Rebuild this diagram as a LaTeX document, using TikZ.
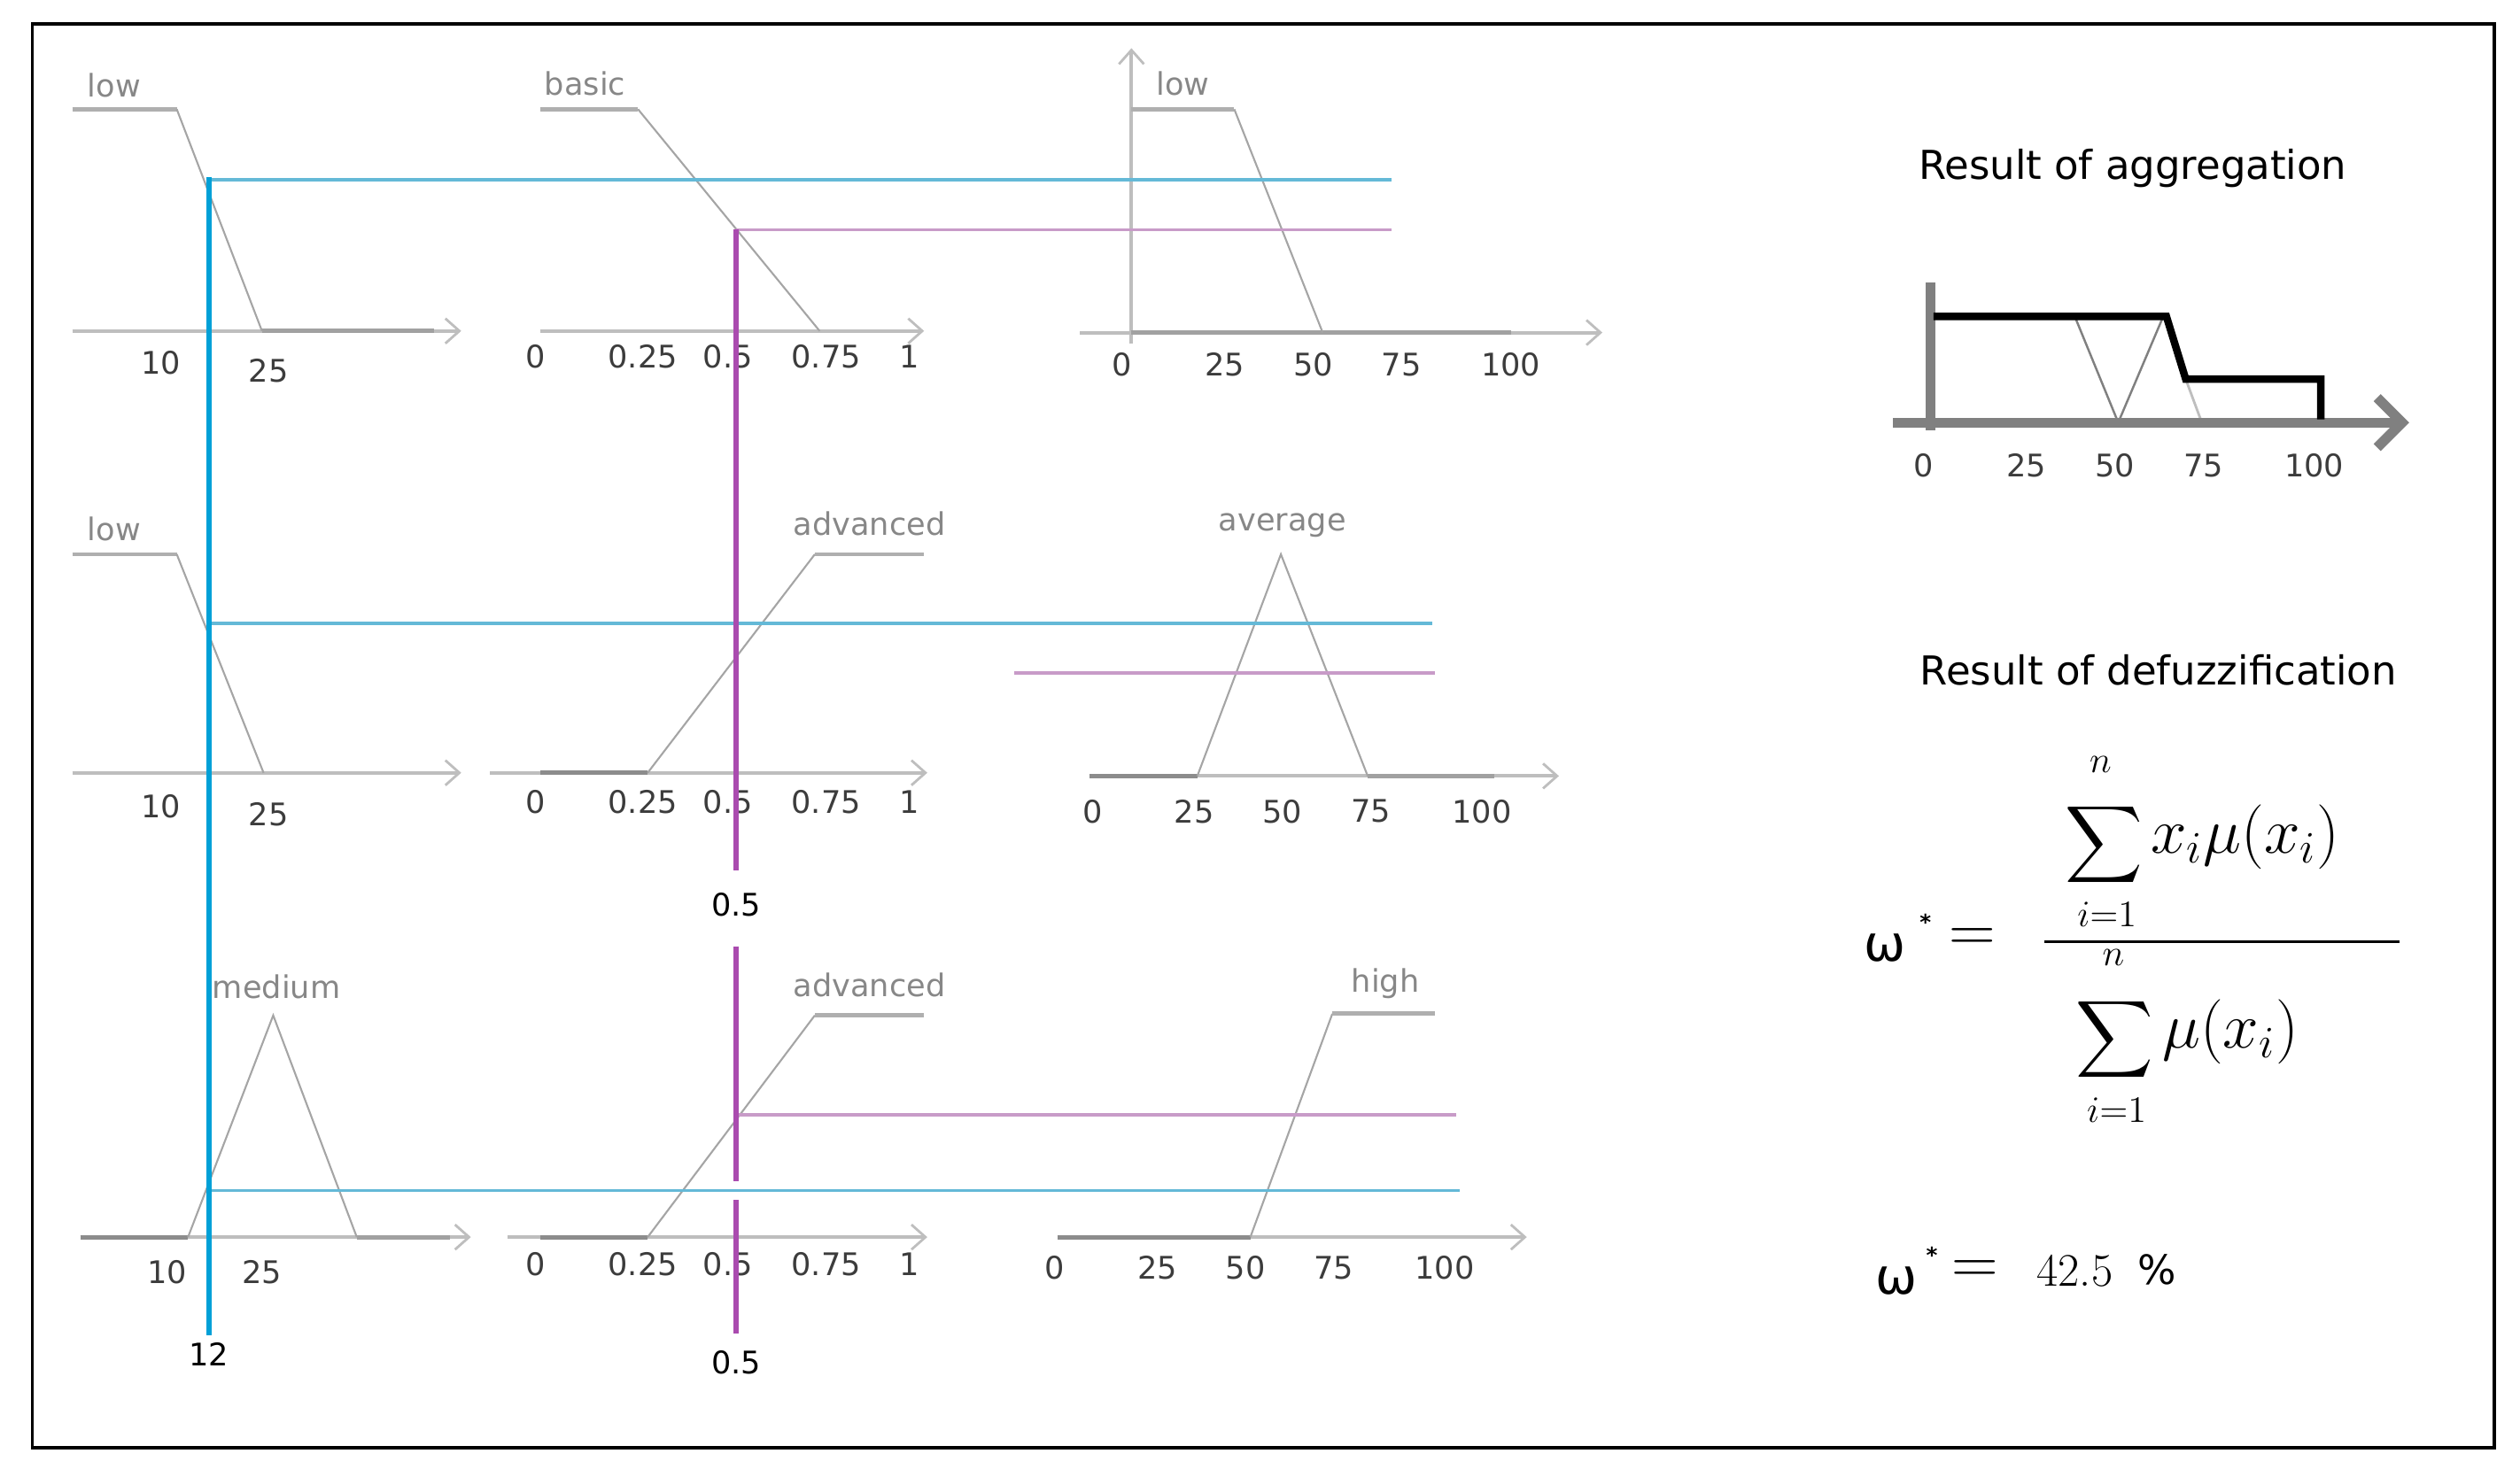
\documentclass[tikz,border=0pt]{standalone}
\usepackage{amsmath}
\usepackage{fontspec}
\usetikzlibrary{arrows.meta}
\newfontfamily\lblfont{DejaVu Sans}
\definecolor{lblgray}{RGB}{135,135,135}
\definecolor{numgray}{RGB}{60,60,60}
\definecolor{axisgray}{RGB}{190,190,190}
\definecolor{topgray}{RGB}{175,175,175}
\definecolor{slopegray}{RGB}{165,165,165}
\definecolor{zerogray}{RGB}{140,140,140}
\definecolor{blueV}{RGB}{0,160,215}
\definecolor{blueH}{RGB}{100,185,215}
\definecolor{magV}{RGB}{170,75,175}
\definecolor{magH}{RGB}{200,155,200}
\definecolor{agggray}{RGB}{128,128,128}
\tikzset{
 lbl/.style={font=\lblfont\fontsize{10}{12}\selectfont, text=lblgray, inner sep=0pt},
 num/.style={font=\lblfont\fontsize{10}{12}\selectfont, text=numgray, inner sep=0pt},
 title/.style={font=\lblfont\fontsize{12.8}{15}\selectfont, text=black, inner sep=0pt},
 mathbig/.style={font=\fontsize{18}{20}\selectfont, inner sep=0pt},
 mathbody/.style={font=\fontsize{20.5}{22}\selectfont, inner sep=0pt},
 mathlim/.style={font=\fontsize{12}{14}\selectfont, inner sep=0pt},
 axisline/.style={draw=axisgray, line width=1.1pt, -{Straight Barb[length=4.5pt,width=8pt,line width=0.8pt]}},
 mtop/.style={draw=topgray, line width=1.4pt},
 mslope/.style={draw=slopegray, line width=0.6pt},
 zeroseg/.style={draw=zerogray, line width=1.4pt},
 bluev/.style={draw=blueV, line width=1.8pt},
 blueh/.style={draw=blueH, line width=1.1pt},
 magv/.style={draw=magV, line width=1.6pt},
 magh/.style={draw=magH, line width=1.1pt},
 aggaxis/.style={draw=agggray, line width=3.2pt},
 aggres/.style={draw=black, line width=2.4pt, line join=miter},
}
\begin{document}
\begin{tikzpicture}[x=0.18144mm, y=-0.18144mm]
\useasboundingbox (0,0) rectangle (1568,914);
\draw[line width=1pt] (20,15) rectangle (1552,901);

% ---------------- Row 1 ----------------
\node[lbl] (r1a) at (71,53) {low};
\draw[axisline] (45,206) -- (287,206);
\draw[zeroseg, draw=axisgray!85!black] (163,206) -- (270,206);
\draw[mtop] (45,68) -- (110,68);
\draw[mslope] (110,68) -- (163,206);
\node[num] (r1a10) at (100,226) {10};
\node[num] (r1a25) at (167,231) {25};

\node[lbl] (r1b) at (364,52) {basic};
\draw[axisline] (336,206) -- (575,206);
\draw[mtop] (336,68) -- (397,68);
\draw[mslope] (397,68) -- (510,206);
\foreach \t/\x [count=\k] in {0/333,0.25/400,0.5/453,0.75/514,1/566}
  \node[num] (r1bt\k) at (\x,222) {\t};

\node[lbl] (r1c) at (736,52) {low};
\draw[draw=axisgray, line width=1.1pt, -{Straight Barb[length=4.5pt,width=8pt,line width=0.8pt]}] (704,214) -- (704,30);
\draw[axisline] (672,207) -- (997,207);
\draw[zeroseg, draw=axisgray!85!black] (704,207) -- (940,207);
\draw[mtop] (704,68) -- (768,68);
\draw[mslope] (768,68) -- (823,207);
\foreach \t/\x [count=\k] in {0/698,25/762,50/817,75/872,100/940}
  \node[num] (r1ct\k) at (\x,227) {\t};

% ---------------- Row 2 ----------------
\node[lbl] (r2a) at (71,329) {low};
\draw[axisline] (45,481) -- (287,481);
\draw[mtop] (45,345) -- (110,345);
\draw[mslope] (110,345) -- (164,481);
\node[num] (r2a10) at (100,502) {10};
\node[num] (r2a25) at (167,507) {25};

\node[lbl] (r2b) at (541,326) {advanced};
\draw[axisline] (305,481) -- (577,481);
\draw[zeroseg] (336,481) -- (403,481);
\draw[mslope] (403,481) -- (507,345);
\draw[mtop] (507,345) -- (575,345);
\foreach \t/\x [count=\k] in {0/333,0.25/400,0.5/453,0.75/514,1/566}
  \node[num] (r2bt\k) at (\x,499) {\t};

\node[lbl] (r2c) at (798,327) {average};
\draw[axisline] (678,483) -- (970,483);
\draw[zeroseg] (678,483) -- (745,483);
\draw[zeroseg, draw=axisgray!85!black] (851,483) -- (930,483);
\draw[mslope] (745,483) -- (797,345) -- (851,483);
\foreach \t/\x [count=\k] in {0/680,25/743,50/798,75/853,100/922}
  \node[num] (r2ct\k) at (\x,505) {\t};

% ---------------- Row 3 ----------------
\node[lbl] (r3a) at (172,614) {medium};
\draw[axisline] (50,770) -- (293,770);
\draw[zeroseg] (50,770) -- (117,770);
\draw[zeroseg, draw=axisgray!85!black] (222,770) -- (280,770);
\draw[mslope] (117,770) -- (170,632) -- (222,770);
\node[num] (r3a10) at (104,792) {10};
\node[num] (r3a25) at (163,792) {25};

\node[lbl] (r3b) at (541,613) {advanced};
\draw[axisline] (316,770) -- (577,770);
\draw[zeroseg] (336,770) -- (403,770);
\draw[mslope] (403,770) -- (507,632);
\draw[mtop] (507,632) -- (575,632);
\foreach \t/\x [count=\k] in {0/333,0.25/400,0.5/453,0.75/514,1/566}
  \node[num] (r3bt\k) at (\x,787) {\t};

\node[lbl] (r3c) at (862,612) {high};
\draw[axisline] (658,770) -- (950,770);
\draw[zeroseg] (658,770) -- (778,770);
\draw[mslope] (778,770) -- (829,631);
\draw[mtop] (829,631) -- (893,631);
\foreach \t/\x [count=\k] in {0/656,25/720,50/775,75/830,100/899}
  \node[num] (r3ct\k) at (\x,789) {\t};

% ---------------- cut lines ----------------
\draw[blueh] (130,112) -- (866,112);
\draw[magh] (458,143) -- (866,143);
\draw[blueh] (130,388) -- (891,388);
\draw[magh] (631,419) -- (893,419);
\draw[magh] (458,694) -- (906,694);
\draw[blueh] (130,741) -- (908,741);

\node[num, text=black] (twelve) at (130,843) {12};
\node[num, text=black] (halfA) at (458,563) {0.5};
\node[num, text=black] (halfB) at (458,848) {0.5};

\coordinate (btop) at (130,110);
\coordinate (bbot) at (130,831);
\draw[bluev] (btop) -- (bbot);

\coordinate (m1) at (458,143);
\coordinate (m2) at (458,542);
\coordinate (m3) at (458,589);
\coordinate (m4) at (458,735);
\coordinate (m5) at (458,747);
\coordinate (m6) at (458,830);
\draw[magv] (m1) -- (m2);
\draw[magv] (m3) -- (m4);
\draw[magv] (m5) -- (m6);

% ---------------- Aggregation ----------------
\node[title] (aggtitle) at (1327,105) {Result of aggregation};
\draw[mslope, draw=agggray, line width=0.7pt] (1291,197) -- (1318,263) -- (1346,197);
\draw[mslope, draw=axisgray, line width=0.8pt] (1360,236) -- (1370,263);
\draw[aggaxis] (1201,176) -- (1201,268);
\draw[aggaxis, -{Straight Barb[length=8pt,width=16pt,line width=3.2pt]}] (1178,263) -- (1499,263);
\draw[aggres] (1203,197) -- (1348,197) -- (1360,236) -- (1444,236) -- (1444,261);
\foreach \t/\x [count=\k] in {0/1197,25/1261,50/1316,75/1371,100/1440}
  \node[num] (aggt\k) at (\x,290) {\t};

% ---------------- Defuzzification ----------------
\node[title] (deftitle) at (1343,417) {Result of defuzzification};
\node[inner sep=0pt] (om1) at (1173,590) {\lblfont\fontsize{16}{18}\selectfont ω};
\node[inner sep=0pt] (st1) at (1198,574) {\lblfont\fontsize{7}{8}\selectfont\bfseries *};
\node[inner sep=0pt] (eq1) at (1227,585) {\fontsize{20}{22}\selectfont$=$};

% numerator
\node[mathlim] (nn) at (1307,476) {$n$};
\node[mathbig] (ns) at (1309,526) {$\displaystyle\sum$};
\node[mathlim] (ni) at (1311,569) {$i{=}1$};
\node[mathbody, anchor=west] (nb) at (1338,521) {$x_i\mu(x_i)$};
% denominator
\node[mathlim] (dn) at (1315,596) {$n$};
\node[mathbig] (ds) at (1316,647) {$\displaystyle\sum$};
\node[mathlim] (di) at (1317,691) {$i{=}1$};
\node[mathbody, anchor=west] (db) at (1345,642) {$\mu(x_i)$};

\coordinate (fl) at (1272,586);
\coordinate (fr) at (1493,586);
\draw[line width=0.9pt] (fl) -- (fr);

\node[inner sep=0pt] (om2) at (1180,797) {\lblfont\fontsize{16}{18}\selectfont ω};
\node[inner sep=0pt] (st2) at (1202,781) {\lblfont\fontsize{7}{8}\selectfont\bfseries *};
\node[inner sep=0pt] (eq2) at (1229,792) {\fontsize{20}{22}\selectfont$=$};
\node[inner sep=0pt] (val) at (1291,791) {\fontsize{15}{17}\selectfont 42.5};
\node[inner sep=0pt] (pct) at (1342,790) {\lblfont\fontsize{13}{15}\selectfont\%};
\end{tikzpicture}
\end{document}
